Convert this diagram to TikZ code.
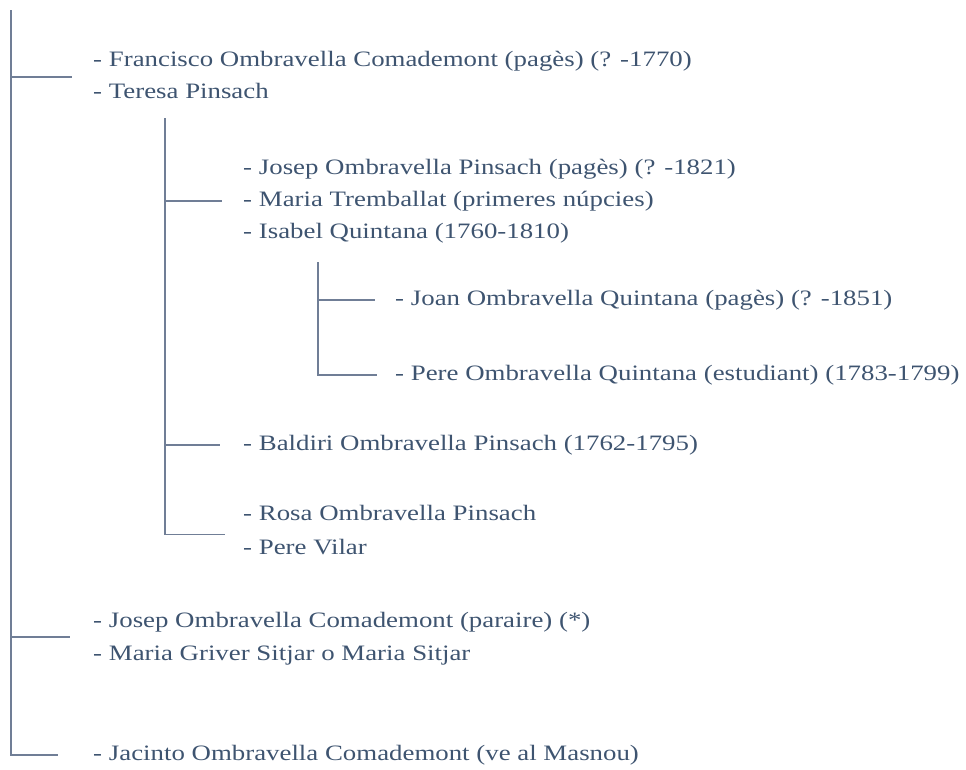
\documentclass[tikz,border=0pt]{standalone}
\usepackage{fontspec}
\setmainfont{Liberation Serif}
\usetikzlibrary{calc}
\definecolor{inkblue}{RGB}{62,84,112}
\definecolor{lineblue}{RGB}{112,126,150}
\tikzstyle{person}=[anchor=base west, inner sep=0pt, text=inkblue, font=\fontsize{22}{26}\selectfont, xscale=1.22, transform shape]
\tikzstyle{link}=[draw=lineblue, line width=1.9pt]

\begin{document}
\begin{tikzpicture}[x=1pt,y=-1pt]
\useasboundingbox (0,0) rectangle (966,769);

\node[person] (fran) at (93,66) {- Francisco Ombravella Comademont (pagès) (? -1770)};
\node[person] (teresa) at (93,98) {- Teresa Pinsach};
\node[person] (josepP) at (243,174) {- Josep Ombravella Pinsach (pagès) (? -1821)};
\node[person] (mariaT) at (243,206) {- Maria Tremballat (primeres núpcies)};
\node[person] (isabel) at (243,238) {- Isabel Quintana (1760-1810)};
\node[person] (joan) at (395,305) {- Joan Ombravella Quintana (pagès) (? -1851)};
\node[person] (pereQ) at (395,380) {- Pere Ombravella Quintana (estudiant) (1783-1799)};
\node[person] (baldiri) at (243,450) {- Baldiri Ombravella Pinsach (1762-1795)};
\node[person] (rosa) at (243,520) {- Rosa Ombravella Pinsach};
\node[person] (pereV) at (243,554) {- Pere Vilar};
\node[person] (josepC) at (93,627) {- Josep Ombravella Comademont (paraire) (*)};
\node[person] (mariaG) at (93,660) {- Maria Griver Sitjar o Maria Sitjar};
\node[person] (jacinto) at (93,760) {- Jacinto Ombravella Comademont (ve al Masnou)};

\coordinate (top1) at (11,10);
\coordinate (top2) at (165,118);
\coordinate (top3) at (318,262);
\coordinate (b1) at ($(fran.west)!0.5!(teresa.west)+(-21,1)$);
\coordinate (b2) at ($(josepC.west)!0.5!(mariaG.west)+(-23,-1)$);
\coordinate (b3) at ([xshift=-35pt]jacinto.west);
\coordinate (c1) at ([xshift=-21pt]mariaT.west);
\coordinate (c2) at ([xshift=-23pt]baldiri.west);
\coordinate (c3) at ($(rosa.west)!0.5!(pereV.west)+(-18,5)$);
\coordinate (d1) at ([xshift=-20pt]joan.west);
\coordinate (d2) at ([xshift=-18pt]pereQ.west);

\draw[link] (top1) |- (b3);
\draw[link] (top1 |- b1) -- (b1);
\draw[link] (top1 |- b2) -- (b2);

\draw[link] (top2) |- (c3);
\draw[link] (top2 |- c1) -- (c1);
\draw[link] (top2 |- c2) -- (c2);

\draw[link] (top3) |- (d2);
\draw[link] (top3 |- d1) -- (d1);

\end{tikzpicture}
\end{document}
